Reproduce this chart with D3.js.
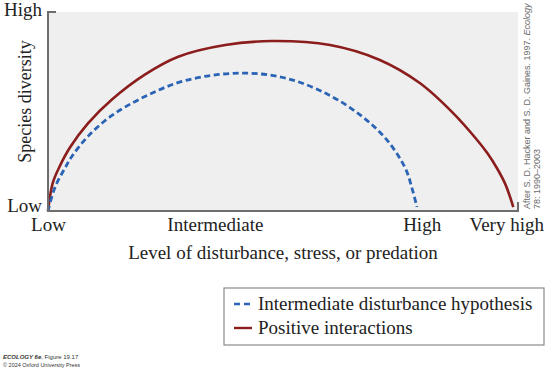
<!DOCTYPE html>
<html>
<head>
<meta charset="utf-8">
<script src="https://cdn.jsdelivr.net/npm/d3@7"></script>
<style>
  body { margin: 0; background: #fff; }
  svg { display: block; }
</style>
</head>
<body>
<svg id="chart" width="548" height="372"></svg>
<script>
// disturbance level (0 = low, 100 = axis end) and diversity (0 = low, 100 = high)
const xTicks = [
  { value: 0, label: "Low" },
  { value: 35.5, label: "Intermediate" },
  { value: 79.5, label: "High" },
  { value: 97.5, label: "Very high" }
];
const yTicks = [
  { value: 0, label: "Low" },
  { value: 100, label: "High" }
];

// dashed blue curve
const idhX = [0, 1.5, 3.6, 5.1, 8.5, 13.6, 20.6, 29.1, 40.9, 51, 60, 67, 72.1, 76, 77.5, 78.5];
const idhY = [0, 12, 21.5, 27.5, 37.5, 48, 57.5, 65.5, 69.3, 66.5, 58, 47.2, 35.7, 21.6, 11, 2];

// solid red curve
const posX = [0, 1, 2.4, 4.7, 8.5, 13.6, 20.6, 27.7, 37.7, 47.7, 60, 70.6, 79.1, 86.2, 91.3, 93.5, 95.5, 97.3, 99];
const posY = [0, 14, 22, 32, 44, 56, 68.5, 77.5, 83.4, 85.4, 83.4, 75.9, 64.3, 49.2, 35.7, 29, 21.6, 13.5, 2];

const legendLabels = ["Intermediate disturbance hypothesis", "Positive interactions"];
const seriesColors = ["#2b63b5", "#8b1d1d"];

const svg = d3.select("#chart");
const serif = "'Liberation Serif', 'DejaVu Serif', serif";
const fs = "19px";

const plotLeft = 48, plotRight = 518, plotTop = 12, plotBottom = 211;

const x = d3.scaleLinear().domain([0, 100]).range([plotLeft, plotRight]);
const y = d3.scaleLinear().domain([0, 100]).range([plotBottom, plotTop]);

// background panel
svg.append("rect")
  .attr("x", plotLeft)
  .attr("y", plotTop)
  .attr("width", plotRight - plotLeft)
  .attr("height", plotBottom - plotTop)
  .style("fill", "#efefef");

// curves
const line = d3.line()
  .x(d => x(d[0]))
  .y(d => y(d[1]))
  .curve(d3.curveCatmullRom.alpha(0.5));

svg.append("path")
  .datum(posX.map((v, i) => [v, posY[i]]))
  .attr("d", line)
  .style("fill", "none")
  .style("stroke", seriesColors[1])
  .style("stroke-width", 2.6);

svg.append("path")
  .datum(idhX.map((v, i) => [v, idhY[i]]))
  .attr("d", line)
  .style("fill", "none")
  .style("stroke", seriesColors[0])
  .style("stroke-width", 2.8)
  .style("stroke-dasharray", "6,3.5");

// axes
const xAxis = d3.axisBottom(x)
  .tickValues(xTicks.map(d => d.value))
  .tickFormat((d, i) => xTicks[i].label)
  .tickSize(0)
  .tickPadding(7);

const gx = svg.append("g")
  .attr("transform", `translate(0, ${plotBottom})`)
  .call(xAxis);
gx.select(".domain").remove();
gx.selectAll("text")
  .style("font-family", serif)
  .style("font-size", fs)
  .style("fill", "#222");

const yAxis = d3.axisLeft(y)
  .tickValues(yTicks.map(d => d.value))
  .tickFormat((d, i) => yTicks[i].label)
  .tickSize(0)
  .tickPadding(6);

const gy = svg.append("g")
  .attr("transform", `translate(${plotLeft}, 0)`)
  .call(yAxis);
gy.select(".domain").remove();
gy.selectAll("text")
  .style("font-family", serif)
  .style("font-size", fs)
  .style("fill", "#222");
gy.selectAll(".tick text")
  .attr("dy", (d) => d === 0 ? "0.0em" : "0.2em");

// axis frame lines with end ticks
svg.append("path")
  .attr("d", `M${plotLeft + 8},${plotTop} H${plotLeft} V${plotBottom} H${plotRight} V${plotBottom - 9}`)
  .style("fill", "none")
  .style("stroke", "#6d6d6d")
  .style("stroke-width", 2);

// axis titles
svg.append("text")
  .attr("transform", `translate(31, ${(plotTop + plotBottom) / 2 - 10}) rotate(-90)`)
  .attr("text-anchor", "middle")
  .style("font-family", serif)
  .style("font-size", "18px")
  .style("fill", "#222")
  .text("Species diversity");

svg.append("text")
  .attr("x", 283)
  .attr("y", 259)
  .attr("text-anchor", "middle")
  .style("font-family", serif)
  .style("font-size", fs)
  .style("fill", "#222")
  .text("Level of disturbance, stress, or predation");

// source note on the right
const credit = svg.append("text")
  .attr("transform", `translate(530, 209) rotate(-90)`)
  .style("font-family", "'Liberation Sans Narrow', 'Liberation Sans', Arial, sans-serif")
  .style("font-size", "9px")
  .style("fill", "#6a6a6a");
credit.append("tspan").attr("x", 0).attr("dy", 0)
  .text("After S. D. Hacker and S. D. Gaines. 1997. ");
credit.append("tspan").style("font-style", "italic").text("Ecology");
credit.append("tspan").attr("x", 0).attr("dy", 10).text("78: 1990–2003");

// legend
const legend = svg.append("g").attr("transform", "translate(224, 288)");
legend.append("rect")
  .attr("width", 320)
  .attr("height", 57)
  .style("fill", "#fff")
  .style("stroke", "#8a8a8a")
  .style("stroke-width", 1.2);

legendLabels.forEach((lab, i) => {
  const row = legend.append("g").attr("transform", `translate(0, ${16 + i * 24})`);
  row.append("line")
    .attr("x1", 10).attr("x2", 28)
    .attr("y1", 0).attr("y2", 0)
    .style("stroke", seriesColors[i])
    .style("stroke-width", i === 0 ? 2.6 : 2.4)
    .style("stroke-dasharray", i === 0 ? "6,4" : null);
  row.append("text")
    .attr("x", 34)
    .attr("y", 6)
    .style("font-family", serif)
    .style("font-size", fs)
    .style("fill", "#222")
    .text(lab);
});

// footer
const foot = svg.append("g").attr("transform", "translate(3, 359)")
  .style("font-family", "'Liberation Sans Narrow', 'Liberation Sans', sans-serif")
  .style("fill", "#333");
const f1 = foot.append("text").style("font-size", "6px");
f1.append("tspan").style("font-style", "italic").style("font-weight", "bold").text("ECOLOGY 6e");
f1.append("tspan").text(", Figure 19.17");
foot.append("text").attr("y", 8).style("font-size", "5.5px").text("© 2024 Oxford University Press");
</script>
</body>
</html>
